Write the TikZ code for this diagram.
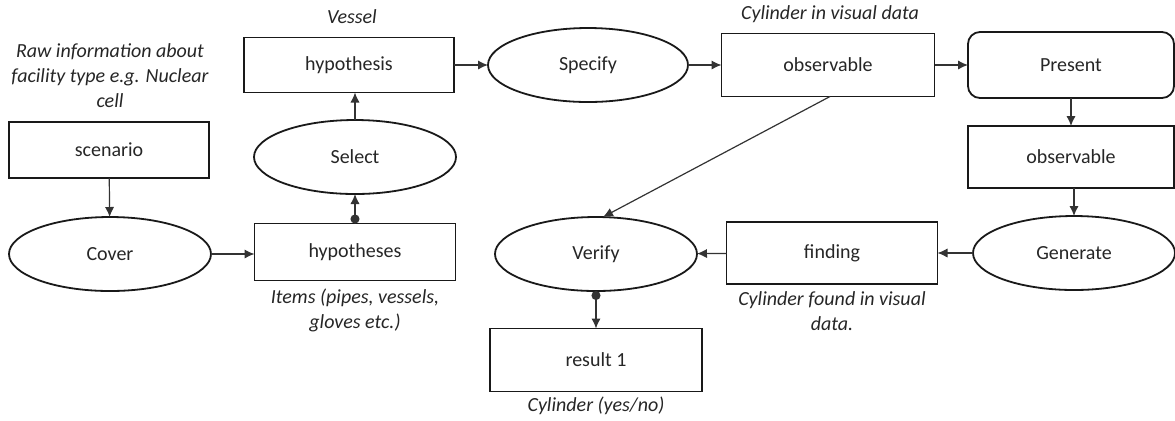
\documentclass[tikz,border=0pt]{standalone}
\usepackage{fontspec}
\setmainfont{Carlito}
\usetikzlibrary{shapes.geometric,arrows.meta,calc}
\begin{document}
\begin{tikzpicture}[x=0.5pt,y=-0.5pt,
  font=\fontsize{10}{12.5}\selectfont,
  rbox/.style={draw=black!90,line width=0.9pt,inner sep=0pt,outer sep=0pt,text=black!85},
  ell/.style={ellipse,draw=black!90,line width=0.9pt,inner sep=0pt,outer sep=0pt,minimum width=101pt,minimum height=37pt,text=black!85},
  lbl/.style={font=\fontsize{10}{12.5}\selectfont\itshape,align=center,text=black!85,inner sep=0pt},
  conn/.style={draw=black!80,line width=0.6pt,-{Latex[length=5pt,width=4.6pt]}},
  dotconn/.style={draw=black!80,line width=0.6pt,{Circle[length=4.5pt,width=4.5pt]}-{Latex[length=5pt,width=4.6pt]}}]
\useasboundingbox (0,0) rectangle (1175,420);
% nodes
\node[rbox,minimum width=100pt,minimum height=28pt] (scen) at (109,150) {scenario};
\node[ell] (cover) at (110,254) {Cover};
\node[rbox,minimum width=100.5pt,minimum height=28.5pt] (hyps) at (355,252) {hypotheses};
\node[ell] (select) at (355,157) {Select};
\node[rbox,minimum width=105pt,minimum height=27.5pt] (hyp) at (349,65) {hypothesis};
\node[ell,minimum width=100pt] (spec) at (588,65) {Specify};
\node[rbox,minimum width=106.5pt,minimum height=31.5pt] (obs1) at (828,65) {observable};
\node[rbox,rounded corners=6pt,minimum width=103pt,minimum height=33pt] (pres) at (1071,65) {Present};
\node[rbox,minimum width=103pt,minimum height=31pt] (obs2) at (1071,157) {observable};
\node[ell] (gen) at (1074,253) {Generate};
\node[rbox,minimum width=105.5pt,minimum height=31pt] (find) at (832,253) {finding};
\node[ell] (ver) at (596,254) {Verify};
\node[rbox,minimum width=106pt,minimum height=31.5pt] (res) at (596,360) {result 1};
% labels
\node[lbl] (l1) at (110,76) {Raw information about\\facility type e.g. Nuclear\\cell};
\node[lbl] (l2) at (352,17) {Vessel};
\node[lbl] (l3) at (830,14) {Cylinder in visual data};
\node[lbl] (l4) at (355,310) {Items (pipes, vessels,\\gloves etc.)};
\node[lbl] (l5) at (832,311) {Cylinder found in visual\\data.};
\node[lbl] (l6) at (596,406) {Cylinder (yes/no)};
% connectors
\draw[conn] (scen) -- (cover);
\draw[conn] (cover.east) -- (cover.east -| hyps.west);
\draw[dotconn] (hyps.north) -- (select.south);
\draw[conn] (select.north) -- (select.north |- hyp.south);
\draw[conn] (hyp.east) -- (hyp.east -| spec.west);
\draw[conn] (spec) -- (obs1);
\draw[conn] (obs1) -- (pres);
\draw[conn] (pres) -- (obs2);
\draw[conn] ([xshift=1.5pt]obs2.south) -- ([xshift=1.5pt]obs2.south |- gen.north);
\draw[conn] (gen) -- (find);
\draw[conn] (find) -- (ver);
\draw[conn] ([xshift=1pt]obs1.south) -- ([xshift=3.5pt]ver.north);
\draw[dotconn] (ver.south) -- (res.north);
\end{tikzpicture}
\end{document}
